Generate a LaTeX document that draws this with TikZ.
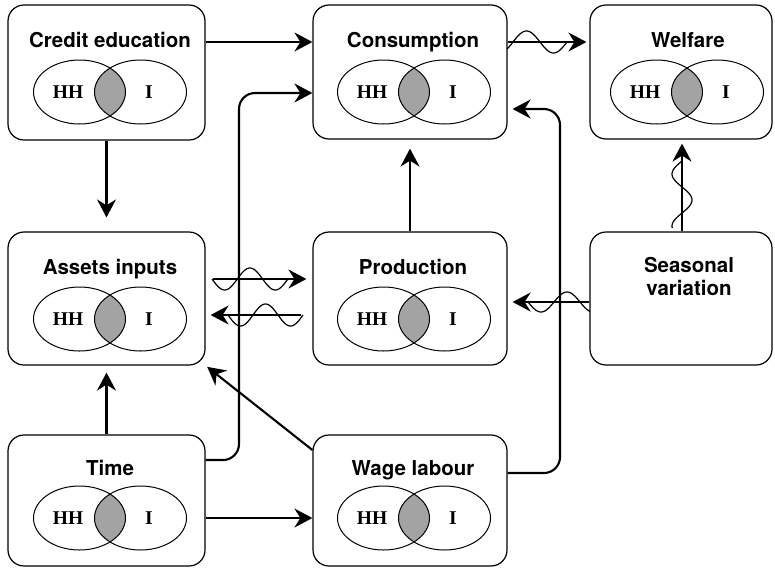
\documentclass[tikz,border=0pt]{standalone}
\usepackage{fontspec}
\setmainfont{Liberation Serif}
\newfontfamily\headfont{TeX Gyre Heros}
\usetikzlibrary{arrows.meta}
\tikzset{
  box/.style={draw, line width=1.2pt, rounded corners=16pt, inner sep=0pt},
  title/.style={font=\headfont\bfseries\fontsize{20.5}{24}\selectfont, anchor=base, inner sep=0pt},
  vlabel/.style={font=\bfseries\fontsize{19.5}{22}\selectfont, inner sep=0pt},
  arr/.style={line width=2.1pt, -{Stealth[length=18pt,width=19pt,inset=6pt]}},
  wave/.style={line width=1.2pt},
  venn/.style={line width=1pt}
}
\newcommand\vennpair[3]{%
  \begin{scope}[shift={(#1,#2)}]
    \begin{scope}
      \clip (-30.5,0) ellipse [x radius=46, y radius=32];
      \fill[black!36] (30.5,0) ellipse [x radius=46, y radius=32];
    \end{scope}
    \draw[venn] (-30.5,0) ellipse [x radius=46, y radius=32];
    \draw[venn] (30.5,0) ellipse [x radius=46, y radius=32];
    \node[vlabel] (#3hh) at (-42,0) {HH};
    \node[vlabel] (#3i) at (39,0) {I};
  \end{scope}}
\begin{document}
\begin{tikzpicture}[x=1pt,y=-1pt]
\useasboundingbox (0,0) rectangle (775,568);
% boxes
\node[box, minimum width=197, minimum height=135] (credit) at (106.5,72.5) {};
\node[box, minimum width=194, minimum height=134] (cons) at (410,72) {};
\node[box, minimum width=182, minimum height=134] (welf) at (681,72) {};
\node[box, minimum width=197, minimum height=133] (assets) at (106.5,298.5) {};
\node[box, minimum width=194, minimum height=133] (prod) at (410,298.5) {};
\node[box, minimum width=182, minimum height=133] (seas) at (681,298.5) {};
\node[box, minimum width=197, minimum height=131] (time) at (106.5,500.5) {};
\node[box, minimum width=194, minimum height=131] (wage) at (410,500.5) {};
% titles
\node[title] (tcredit) at (110,47) {Credit education};
\node[title] (tcons) at (413,47) {Consumption};
\node[title] (twelf) at (688,47) {Welfare};
\node[title] (tassets) at (110,274) {Assets inputs};
\node[title] (tprod) at (413,274) {Production};
\node[title] (tseas1) at (689,272) {Seasonal};
\node[title] (tseas2) at (689,295) {variation};
\node[title] (ttime) at (110,475) {Time};
\node[title] (twage) at (413,475) {Wage labour};
% venns
\vennpair{110}{92}{vcredit}
\vennpair{414}{92}{vcons}
\vennpair{687}{92}{vwelf}
\vennpair{110}{319}{vassets}
\vennpair{414}{319}{vprod}
\vennpair{110}{518}{vtime}
\vennpair{414}{518}{vwage}
% helper coordinates
\coordinate (h1) at (0,42);
\coordinate (h2) at (0,279);
\coordinate (h3) at (0,315);
\coordinate (h4) at (0,302);
\coordinate (h5) at (0,518);
\coordinate (h6) at (0,450);
\coordinate (v1) at (682,0);
\coordinate (tc1) at (239,460);
\coordinate (tc2) at (239,93);
\coordinate (wc1) at (560,473);
\coordinate (wc2) at (560,109);
% straight connectors
\draw[arr] (credit.east |- h1) -- (cons.west |- h1);
\draw[arr, shorten >=3pt] (cons.east |- h1) -- (welf.west |- h1);
\draw[arr, shorten >=14pt] (credit.south) -- (assets.north);
\draw[arr, shorten >=7pt] (time.north) -- (assets.south);
\draw[arr, shorten >=9pt] (prod.north) -- (cons.south);
\draw[arr, shorten >=4pt] (v1 |- seas.north) -- (v1 |- welf.south);
\draw[arr, shorten <=7pt, shorten >=6pt] (assets.east |- h2) -- (prod.west |- h2);
\draw[arr, shorten <=11pt, shorten >=5pt] (prod.west |- h3) -- (assets.east |- h3);
\draw[arr, shorten >=5pt] (seas.west |- h4) -- (prod.east |- h4);
\draw[arr] (time.east |- h5) -- (wage.west |- h5);
\draw[arr, rounded corners=16pt] (time.east |- tc1) -- (tc1) -- (tc2) -- (cons.west |- tc2);
\draw[arr, rounded corners=16pt, shorten >=5pt] (wage.east |- wc1) -- (wc1) -- (wc2) -- (cons.east |- wc2);
\draw[arr, shorten >=2pt] (wage.west |- h6) -- (assets.south east);
% waves
\draw[wave] plot[domain=507:567, samples=60] (\x, {42 - 11*sin(180*(\x-513)/27)});
\draw[wave] plot[domain=212:288, samples=70] (\x, {279 + 11*sin(180*(\x-212)/25.3)});
\draw[wave] plot[domain=228:303, samples=70] (\x, {315 + 11*sin(180*(\x-228)/25)});
\draw[wave] plot[domain=528:590, samples=60] (\x, {302 + 10*sin(180*(\x-528)/26)});
\draw[wave] plot[domain=161:228, samples=60] ({682 + 10*sin(180*(213-\x)/26)}, \x);
\end{tikzpicture}
\end{document}
